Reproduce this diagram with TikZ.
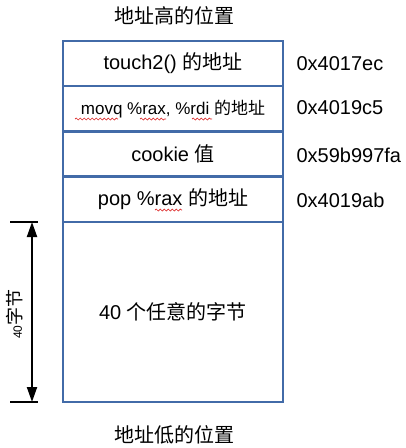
\documentclass[tikz,border=0pt]{standalone}
\usepackage{fontspec}
\setmainfont{Liberation Sans}
\newfontfamily\cjk{Noto Sans CJK SC}
\usetikzlibrary{arrows.meta,positioning,decorations.pathmorphing}
\definecolor{stackblue}{RGB}{66,107,168}
\definecolor{spellred}{RGB}{220,40,40}

\begin{document}
\begin{tikzpicture}[
    x=1pt, y=1pt,
    cell/.style={draw=stackblue, line width=2.5pt, minimum width=220pt,
                 minimum height=45.25pt, inner sep=0pt, outer sep=0pt,
                 font=\fontsize{20}{24}\selectfont},
    addr/.style={anchor=west, font=\fontsize{20}{24}\selectfont},
    note/.style={font=\fontsize{20}{24}\selectfont\cjk},
    span/.style={{Triangle[length=15pt,width=10pt]}-{Triangle[length=15pt,width=10pt]}, line width=2pt},
    bar/.style={line width=2.5pt},
    squiggle/.style={spellred, line width=0.7pt,
                     decorate, decoration={snake, amplitude=1pt, segment length=4pt}}
]
    \useasboundingbox (0,0) rectangle (406,-448);

    % stack frame, from high to low address
    \node[cell] (ret) at (173,-63.6) {touch2() {\cjk 的地址}};
    \node[cell, below=0pt of ret, font=\fontsize{17}{20}\selectfont] (mov) {movq \%rax, \%rdi {\cjk 的地址}};
    \node[cell, below=0pt of mov] (cookie) {cookie {\cjk 值}};
    \node[cell, below=0pt of cookie] (pop) {pop \%rax {\cjk 的地址}};
    \node[cell, below=0pt of pop, minimum height=180pt] (pad) {40 {\cjk 个任意的字节}};

    \node[note] (high) at (174,-16) {地址高的位置};
    \node[note] (low) at (174,-435) {地址低的位置};

    \node[addr] at (293,-64) {0x4017ec};
    \node[addr] at (293,-108) {0x4019c5};
    \node[addr] at (293,-155) {0x59b997fa};
    \node[addr] at (293,-200) {0x4019ab};

    % size of the padding
    \coordinate (padtop) at (32,-222);
    \coordinate (padbot) at (32,-402);
    \draw[bar] ([xshift=-22pt]padtop) -- ([xshift=6pt]padtop);
    \draw[bar] ([xshift=-22pt]padbot) -- ([xshift=6pt]padbot);
    \draw[span] (padtop) -- (padbot);
    \node[rotate=90] (size) at (15,-314) {{\fontsize{12}{14}\selectfont 40}{\fontsize{18}{20}\selectfont\cjk 字节}};

    % spell check marks
    \draw[squiggle] (75,-119) -- (118,-119);
    \draw[squiggle] (140,-119) -- (166,-119);
    \draw[squiggle] (192,-119) -- (212,-119);
    \draw[squiggle] (155,-210) -- (182,-210);
\end{tikzpicture}
\end{document}
